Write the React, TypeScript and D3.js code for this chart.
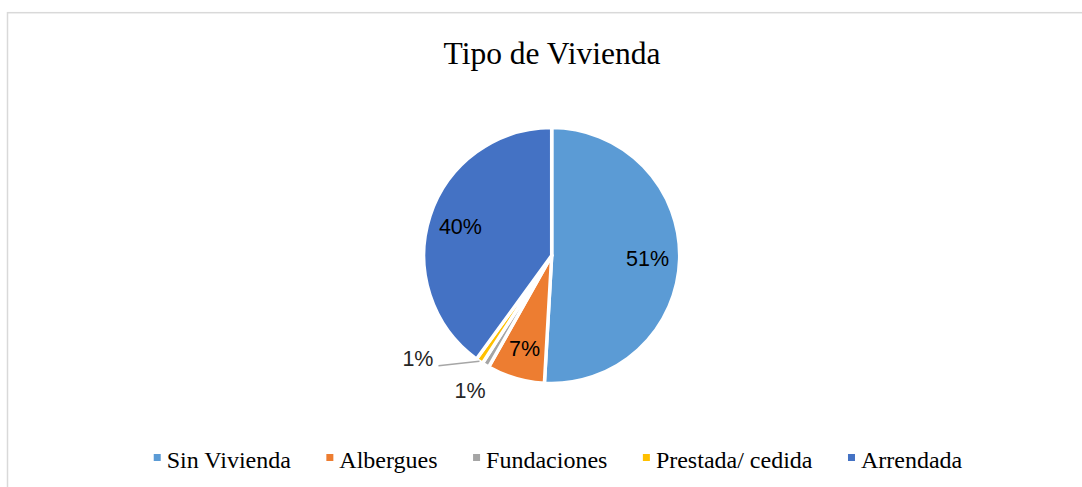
import React, { useEffect, useRef } from 'react';
import * as d3 from 'd3';

const title = 'Tipo de Vivienda';
const categories = ['Sin Vivienda', 'Albergues', 'Fundaciones', 'Prestada/ cedida', 'Arrendada'];
const values = [56, 8, 1, 1, 44];
const colors = ['#5B9BD5', '#ED7D31', '#A5A5A5', '#FFC000', '#4472C4'];

const W = 1082;
const H = 487;

export default function App() {
  const ref = useRef<SVGSVGElement>(null);

  useEffect(() => {
    const svg = d3.select(ref.current);
    svg.selectAll('*').remove();

    // chart frame (cropped on right/bottom like the reference)
    svg.append('rect')
      .attr('x', 7.5).attr('y', 12.7)
      .attr('width', W + 20).attr('height', H + 20)
      .attr('fill', '#fff')
      .attr('stroke', '#d9d9d9')
      .attr('stroke-width', 1.5);

    svg.append('text')
      .attr('x', 552).attr('y', 64)
      .attr('text-anchor', 'middle')
      .attr('font-family', '"Liberation Serif", "Times New Roman", serif')
      .attr('font-size', 31.5)
      .attr('fill', '#000')
      .text(title);

    const cx = 551.7, cy = 255.5, R = 128;
    const total = d3.sum(values);
    const fmt = d3.format('.0%');

    const pie = d3.pie<number>().sort(null).value(d => d);
    const arcs = pie(values);
    const arc = d3.arc<d3.PieArcDatum<number>>().innerRadius(0).outerRadius(R);
    const labelArc = d3.arc<d3.PieArcDatum<number>>().innerRadius(96).outerRadius(96);

    const g = svg.append('g').attr('transform', `translate(${cx},${cy})`);

    g.selectAll('path.slice')
      .data(arcs)
      .enter()
      .append('path')
      .attr('class', 'slice')
      .attr('d', d => arc(d) as string)
      .attr('fill', (d, i) => colors[i])
      .attr('stroke', '#fff')
      .attr('stroke-width', 3.5)
      .attr('stroke-linejoin', 'round');

    const labelFont = '"Liberation Sans", Arial, sans-serif';

    arcs.forEach((d, i) => {
      const share = d.value / total;
      const txt = fmt(share);
      const mid = (d.startAngle + d.endAngle) / 2;
      if (share >= 0.05) {
        const [lx, ly] = labelArc.centroid(d);
        g.append('text')
          .attr('x', lx).attr('y', ly + 8)
          .attr('text-anchor', 'middle')
          .attr('font-family', labelFont)
          .attr('font-size', 21.5)
          .attr('fill', '#000')
          .text(txt);
      } else if (i === 2) {
        // first small slice: label just outside
        const r = 158;
        g.append('text')
          .attr('x', r * Math.sin(mid)).attr('y', -r * Math.cos(mid) + 7)
          .attr('text-anchor', 'middle')
          .attr('font-family', labelFont)
          .attr('font-size', 21.5)
          .attr('fill', '#262626')
          .text(txt);
      } else {
        // second small slice: label pushed left with a leader line
        const sx = R * Math.sin(mid), sy = -R * Math.cos(mid);
        const ex = sx - 41, ey = sy + 4.5;
        g.append('path')
          .attr('d', `M${sx},${sy}L${ex},${ey}`)
          .attr('stroke', '#a6a6a6')
          .attr('stroke-width', 1.5)
          .attr('fill', 'none');
        g.append('text')
          .attr('x', ex - 5).attr('y', ey)
          .attr('text-anchor', 'end')
          .attr('font-family', labelFont)
          .attr('font-size', 21.5)
          .attr('fill', '#262626')
          .text(txt);
      }
    });

    // legend
    const legend = svg.append('g');
    const items = legend.selectAll('g.item')
      .data(categories)
      .enter()
      .append('g')
      .attr('class', 'item');
    items.append('rect')
      .attr('width', 7).attr('height', 7)
      .attr('y', -14)
      .attr('fill', (d, i) => colors[i]);
    items.append('text')
      .attr('x', 13)
      .attr('font-family', '"Liberation Serif", "Times New Roman", serif')
      .attr('font-size', 24)
      .attr('fill', '#000')
      .text(d => d);

    const gap = 35.5;
    const widths: number[] = [];
    items.select('text').each(function () {
      widths.push(13 + (this as SVGTextElement).getComputedTextLength());
    });
    const totalW = d3.sum(widths) + gap * (widths.length - 1);
    let x = 558 - totalW / 2;
    items.attr('transform', (d, i) => {
      const t = `translate(${x},468)`;
      x += widths[i] + gap;
      return t;
    });
  }, []);

  return (
    <svg
      ref={ref}
      width={W}
      height={H}
      style={{ position: 'absolute', left: 0, top: 0, background: '#fff' }}
    />
  );
}
